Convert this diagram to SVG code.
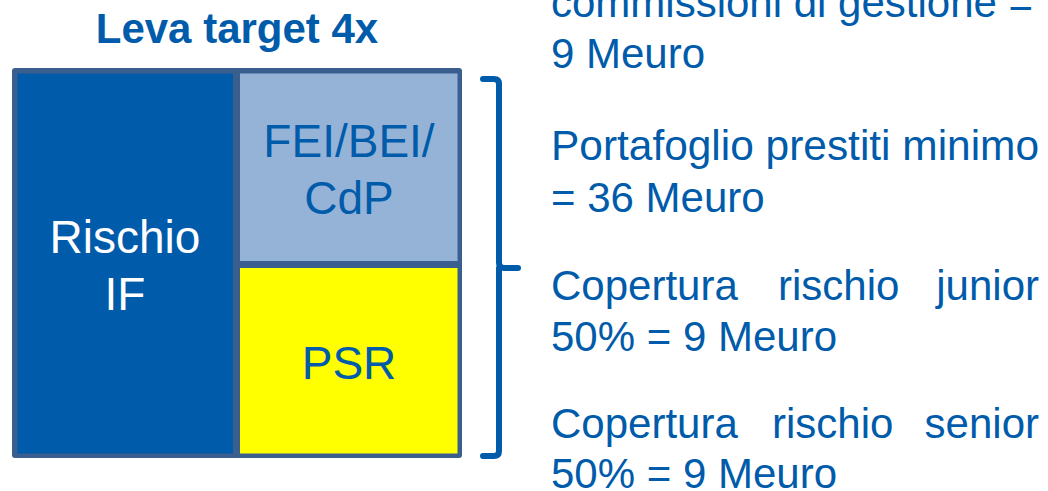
<svg xmlns="http://www.w3.org/2000/svg" width="1048" height="491" viewBox="0 0 1048 491">
<style>
.t{font-family:"Liberation Sans",Arial,sans-serif;fill:#005BAA}
.box{font-family:"Liberation Sans",Arial,sans-serif;font-size:46px;text-anchor:middle}
.r{font-size:42px}
</style>
<rect width="1048" height="491" fill="#FFFFFF"/>
<text id="title" class="t" x="237" y="43" font-size="42" font-weight="bold" text-anchor="middle">Leva target 4x</text>
<g id="frame">
<rect x="12" y="68" width="450" height="390" rx="3" fill="#3A5F8E"/>
</g>
<g id="rischio">
<rect x="17.5" y="73.5" width="215.5" height="380" fill="#005BAA"/>
<text class="box" x="125" y="253" fill="#FFFFFF">Rischio</text>
<text class="box" x="125" y="310" fill="#FFFFFF">IF</text>
</g>
<g id="fei">
<rect x="240" y="73.5" width="217.5" height="187.5" fill="#95B3D7"/>
<text class="box" x="349" y="157" fill="#005BAA">FEI/BEI/</text>
<text class="box" x="349" y="214" fill="#005BAA">CdP</text>
</g>
<g id="psr">
<rect x="240" y="268" width="217.5" height="185.5" fill="#FFFF00"/>
<text class="box" x="349" y="379" fill="#005BAA">PSR</text>
</g>
<g id="connectors">
<path d="M483 79 H494 Q499 79 499 84 V263 Q499 268 504 268 H518 M499 268 V451 Q499 456 494 456 H483" fill="none" stroke="#005BAA" stroke-width="6" stroke-linecap="round" stroke-linejoin="round"/>
</g>
<g id="notes">
<text class="t r" x="551" y="17">commissioni di gestione =</text>
<text class="t r" x="551" y="68">9 Meuro</text>
<text class="t r" x="551" y="160" textLength="488" lengthAdjust="spacingAndGlyphs">Portafoglio prestiti minimo</text>
<text class="t r" x="551" y="212">= 36 Meuro</text>
<text class="t r" x="551" y="300">Copertura</text>
<text class="t r" x="778" y="300">rischio</text>
<text class="t r" x="1039" y="300" text-anchor="end">junior</text>
<text class="t r" x="551" y="351">50% = 9 Meuro</text>
<text class="t r" x="551" y="438">Copertura</text>
<text class="t r" x="772" y="438">rischio</text>
<text class="t r" x="1039" y="438" text-anchor="end">senior</text>
<text class="t r" x="551" y="488">50% = 9 Meuro</text>
</g>
</svg>
